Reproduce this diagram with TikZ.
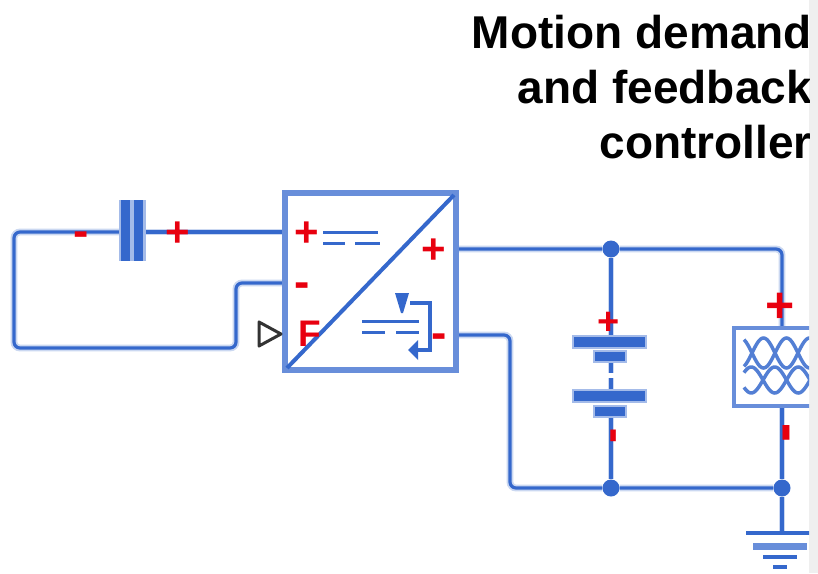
\documentclass[tikz,border=0pt]{standalone}
\usepackage{fontspec}
\setmainfont{Liberation Sans}
\definecolor{wirecore}{HTML}{3568CC}
\definecolor{wirehalo}{HTML}{CBD8F1}
\definecolor{boxblue}{HTML}{688EDA}
\definecolor{symred}{HTML}{E8000F}
\definecolor{portgray}{HTML}{333333}
\definecolor{edgegray}{HTML}{EFEFEF}
\usetikzlibrary{calc}
\tikzset{
  wire/.style={draw=wirehalo, line width=1.8pt, double=wirecore, double distance=3.2pt, rounded corners=6pt},
  blockline/.style={draw=boxblue, line width=6pt},
  plate/.style={draw=none, fill=wirecore},
  platehalo/.style={draw=boxblue!60, line width=2.5pt, fill=wirecore},
  symline/.style={draw=wirecore, line width=3pt},
  coilline/.style={draw=wirecore!85!white, line width=3.5pt},
  sign/.style={text=symred, inner sep=0pt, font=\fontsize{#1}{#1}\selectfont\bfseries},
  dotnode/.style={circle, fill=wirecore, minimum size=17pt, inner sep=0pt},
  title/.style={align=right, inner sep=0pt, font=\fontsize{46}{55}\selectfont\bfseries}
}
\begin{document}
\begin{tikzpicture}[x=1pt,y=-1pt]
	\useasboundingbox (0,0) rectangle (818,573);
	\fill [white] (0,0) rectangle (818,573);
	\fill [edgegray] (809,0) rectangle (818,573);
	\begin{scope}
		\clip (0,0) rectangle (809,573);
		\node [title, anchor=north east] (heading) at (812,15) {Motion demand\\and feedback\\controller};
		% converter
		\coordinate (convTL) at (285,193);
		\coordinate (convBR) at (456,370);
		\coordinate (dcIn) at (285,232);
		\coordinate (fbIn) at (285,283);
		\coordinate (dcPos) at (456,249);
		\coordinate (dcNeg) at (456,335);
		% wires
		\coordinate (capL) at (125,232);
		\coordinate (capR) at (139,232);
		\coordinate (batTop) at (611,342);
		\coordinate (batLow) at (611,412);
		\coordinate (machTop) at (782,328);
		\coordinate (machLow) at (782,406);
		\coordinate (gndTop) at (782,533);
		\node [dotnode] (topDot) at (611,249) {};
		\node [dotnode] (lowDot) at (611,488) {};
		\node [dotnode] (gndDot) at (782,488) {};
		\draw [wire] (capR) -- (dcIn);
		\draw [wire] (fbIn) -- (236,283) -- (236,348) -- (14,348) -- (14,232) -- (capL);
		\draw [wire] (dcPos) -- (topDot) -- (782,249) -- (machTop);
		\draw [wire] (dcNeg) -- (510,335) -- (510,488) -- (lowDot) -- (gndDot);
		\draw [wire] (topDot) -- (batTop);
		\draw [wire] (batLow) -- (lowDot);
		\draw [wire] (machLow) -- (gndDot) -- (gndTop);
		\draw [blockline, fill=white] (convTL) rectangle (convBR);
		\draw [symline, line width=4pt] (287,368) -- (454,195);
		% dc and chopper marks
		\draw [symline] (323,232) -- (378,232);
		\draw [symline] (323,243) -- (345,243);
		\draw [symline] (355,243) -- (380,243);
		\draw [symline] (362,321) -- (419,321);
		\draw [symline] (362,332) -- (385,332);
		\draw [symline] (396,332) -- (419,332);
		\draw [symline, line width=4pt] (410,303) -- (430,303) -- (430,350) -- (416,350);
		\fill [wirecore] (395,293) -- (409,293) -- (403,313) -- (401,313) -- cycle;
		\fill [wirecore] (408,350) -- (418,340) -- (418,360) -- cycle;
		% capacitor
		\fill [boxblue!60] (119,200) rectangle (146,261);
		\draw [plate] (121,200) rectangle (130,261);
		\draw [plate] (134,200) rectangle (143,261);
		% battery
		\draw [wire] (611,356) -- (611,373);
		\draw [wire] (611,378) -- (611,396);
		\draw [platehalo] (573,336) rectangle (646,348);
		\draw [platehalo] (594,351) rectangle (626,362);
		\draw [platehalo] (573,390) rectangle (646,402);
		\draw [platehalo] (594,406) rectangle (626,417);
		% machine
		\draw [draw=boxblue, line width=4pt, fill=white] (734,328) rectangle (840,406);
		\foreach \yc/\amp in {353/15,353/-15}
			\draw [coilline] plot [domain=744:830,samples=80] (\x,{\yc+\amp*sin((\x-752)*180/23)});
		\foreach \yc/\amp in {380/13,380/-13}
			\draw [coilline] plot [domain=744:830,samples=80] (\x,{\yc+\amp*sin((\x-763)*180/23.5)});
		% ground
		\draw [symline, line width=4pt] (746,533) -- (818,533);
		\draw [draw=boxblue, line width=7pt] (753,546) -- (807,546);
		\draw [symline, line width=4pt] (763,557) -- (797,557);
		\draw [symline, line width=4pt] (773,567) -- (787,567);
	\end{scope}
	% firing port
	\draw [draw=portgray, line width=3pt, fill=white, line join=round] (259,322) -- (259,346) -- (281,334) -- cycle;
	% polarity signs
	\node [sign=42] (capPos) at (178,234) {+};
	\node [sign=46] (capNeg) at (81,239) {-};
	\node [sign=42] (inPos) at (307,234) {+};
	\node [sign=46] (inNeg) at (302,290) {-};
	\node [sign=42] (outPos) at (434,251) {+};
	\node [sign=46] (outNeg) at (439,341) {-};
	\node [sign=37] (fireLabel) at (310,334) {F};
	\node [sign=38] (batPos) at (609,323) {+};
	\node [sign=46, rotate=90] (batNeg) at (618,436) {-};
	\node [sign=58, rotate=90] (machNeg) at (792,433) {-};
	\node [sign=50] (machPos) at (780,308) {+};
\end{tikzpicture}
\end{document}
